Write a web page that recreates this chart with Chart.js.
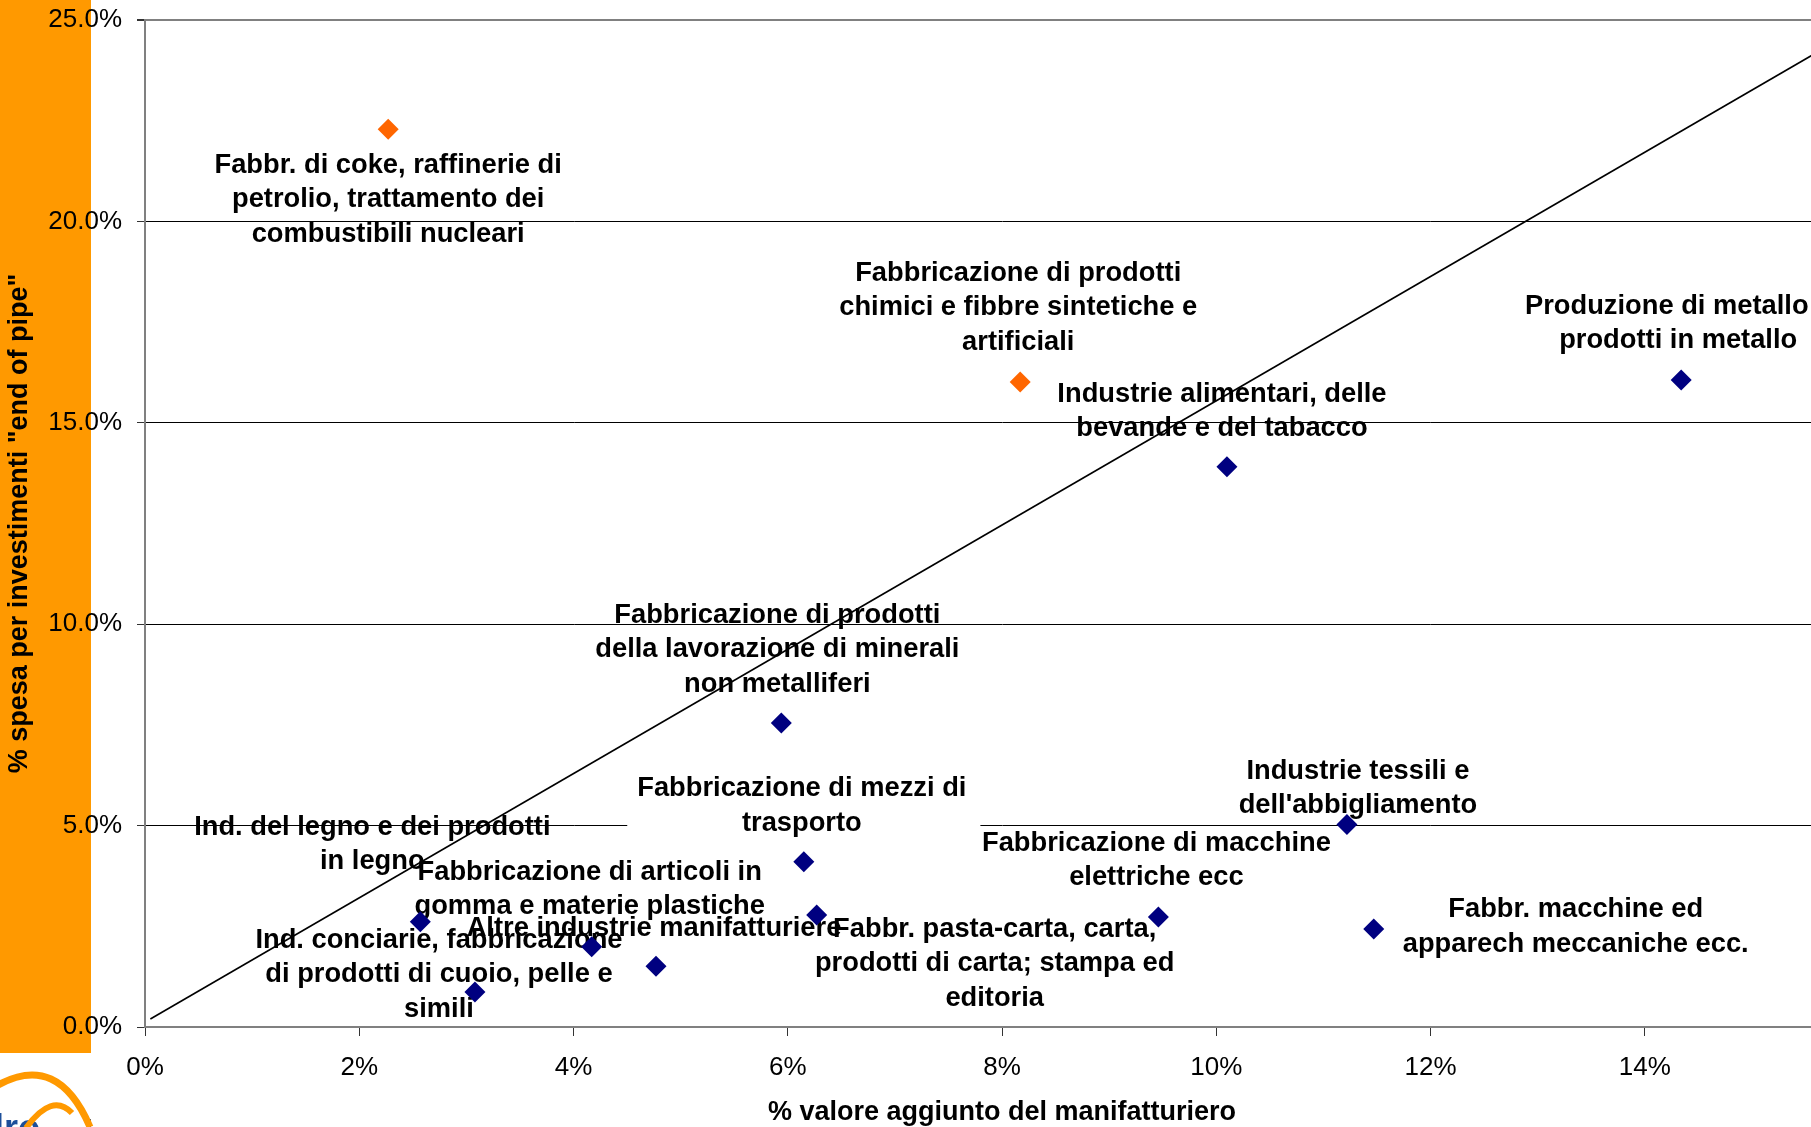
<!DOCTYPE html>
<html>
<head>
<meta charset="utf-8">
<script src="https://cdn.jsdelivr.net/npm/chart.js@4.4.1/dist/chart.umd.min.js"></script>
<style>
  html, body { margin: 0; padding: 0; overflow: hidden; background: #fff; width: 1811px; height: 1127px; }
  #wrap { position: absolute; left: 0; top: 0; width: 1900px; height: 1127px; }
</style>
</head>
<body>
<div id="wrap"><canvas id="c" width="1900" height="1127"></canvas></div>
<script>
// ---- DATA ----
const sectorLabels = [
  ["Fabbr. di coke, raffinerie di", "petrolio, trattamento dei", "combustibili nucleari"],
  ["Fabbricazione di prodotti", "chimici e fibbre sintetiche e", "artificiali"],
  ["Produzione di metallo e", "prodotti in metallo"],
  ["Industrie alimentari, delle", "bevande e del tabacco"],
  ["Fabbricazione di prodotti", "della lavorazione di minerali", "non metalliferi"],
  ["Industrie tessili e", "dell'abbigliamento"],
  ["Fabbricazione di mezzi di", "trasporto"],
  ["Fabbricazione di articoli in", "gomma e materie plastiche"],
  ["Altre industrie manifatturiere"],
  ["Ind. del legno e dei prodotti", "in legno"],
  ["Ind. conciarie, fabbricazione", "di prodotti di cuoio, pelle e", "simili"],
  ["Fabbr. pasta-carta, carta,", "prodotti di carta; stampa ed", "editoria"],
  ["Fabbricazione di macchine", "elettriche ecc"],
  ["Fabbr. macchine ed", "apparech meccaniche ecc."]
];
// % valore aggiunto del manifatturiero
const valueAdded = [2.27, 8.17, 14.34, 10.10, 5.94, 11.22, 6.15, 4.17, 4.77, 2.57, 3.08, 6.27, 9.46, 11.47];
// % spesa per investimenti "end of pipe"
const endOfPipe  = [22.29, 16.01, 16.06, 13.91, 7.55, 5.03, 4.10, 1.99, 1.51, 2.61, 0.87, 2.78, 2.73, 2.43];
// group: "alto" = highlighted sectors
const sectorGroup = ["alto", "alto", "base", "base", "base", "base", "base", "base", "base", "base", "base", "base", "base", "base"];
// reference line
const trendX = [0.05, 16];
const trendY = [0.20, 24.80];
// tick labels
const xTickLabels = ["0%", "2%", "4%", "6%", "8%", "10%", "12%", "14%", "16%"];
const yTickLabels = ["0.0%", "5.0%", "10.0%", "15.0%", "20.0%", "25.0%"];
const xTitle = "% valore aggiunto del manifatturiero";
const yTitle = '% spesa per investimenti "end of pipe"';

// ---- LAYOUT (label offsets from each point in px: dx, dy of first line, white box) ----
const labelPlacement = [
  [0, 36, false],
  [-2, -109, false],
  [-3, -74, false],
  [-5, -72.5, false],
  [-4, -107.5, false],
  [11, -53, false],
  [-2, -73, true],
  [-2, -74.5, false],
  [-2, -37.5, false],
  [-48, -94.5, false],
  [-36, -51.5, false],
  [178, 14, false],
  [-2, -74, false],
  [202, -19.5, false]
];
const LINE_H = 34.5;
const FONT = '"Liberation Sans", Arial, sans-serif';

const bgPlugin = {
  id: 'bg',
  beforeDraw(chart) {
    const ctx = chart.ctx;
    ctx.save();
    ctx.fillStyle = '#fff';
    ctx.fillRect(0, 0, chart.width, chart.height);
    ctx.fillStyle = '#FF9900';
    ctx.fillRect(0, 0, 91, 1053);
    ctx.restore();
  },
  afterDraw(chart) {
    // partial logo in bottom-left corner
    const ctx = chart.ctx;
    ctx.save();
    ctx.fillStyle = '#1d4f9a';
    ctx.font = 'bold 36px ' + FONT;
    ctx.textBaseline = 'alphabetic';
    ctx.fillText('lro', -6, 1140);
    ctx.fillRect(87, 1119, 4, 8);
    ctx.strokeStyle = '#FF9900';
    ctx.lineCap = 'butt';
    ctx.lineWidth = 7;
    ctx.beginPath();
    ctx.moveTo(-2, 1085);
    ctx.quadraticCurveTo(58, 1052, 90, 1127);
    ctx.stroke();
    ctx.lineWidth = 6;
    ctx.beginPath();
    ctx.moveTo(26, 1128);
    ctx.quadraticCurveTo(52, 1092, 72, 1113);
    ctx.stroke();
    ctx.restore();
  }
};

const labelPlugin = {
  id: 'sectorLabels',
  beforeDatasetsDraw(chart) {
    const ctx = chart.ctx;
    const meta = chart.getDatasetMeta(0);
    ctx.save();
    ctx.font = 'bold 27.3px ' + FONT;
    ctx.textAlign = 'center';
    ctx.textBaseline = 'middle';
    meta.data.forEach((pt, i) => {
      const [dx, dy, box] = labelPlacement[i];
      const lines = sectorLabels[i];
      const cx = pt.x + dx;
      const cy = pt.y + dy;
      if (box) {
        const w = Math.max(...lines.map(l => ctx.measureText(l).width));
        ctx.fillStyle = '#fff';
        ctx.fillRect(cx - w / 2 - 10, cy - 20, w + 24, (lines.length - 1) * LINE_H + 40);
      }
      ctx.fillStyle = '#000';
      lines.forEach((l, j) => ctx.fillText(l, cx, cy + j * LINE_H));
    });
    ctx.restore();
  }
};

new Chart(document.getElementById('c'), {
  type: 'scatter',
  data: {
    datasets: [
      {
        label: 'Settori',
        data: valueAdded.map((x, i) => ({ x: x, y: endOfPipe[i] })),
        pointStyle: 'rectRot',
        pointRadius: 10.5,
        pointHoverRadius: 10.5,
        pointBackgroundColor: sectorGroup.map(g => g === 'alto' ? '#FF6600' : '#000080'),
        pointBorderWidth: 0,
        borderWidth: 0,
        order: 0
      },
      {
        label: 'Riferimento',
        data: trendX.map((x, i) => ({ x: x, y: trendY[i] })),
        showLine: true,
        borderColor: '#000',
        borderWidth: 1.6,
        pointRadius: 0,
        pointHoverRadius: 0,
        fill: false,
        order: 1
      }
    ]
  },
  options: {
    responsive: false,
    animation: false,
    devicePixelRatio: 1,
    events: [],
    layout: { padding: { left: 0, top: 20, right: 41, bottom: 0 } },
    plugins: { legend: { display: false }, tooltip: { enabled: false } },
    scales: {
      x: {
        type: 'linear',
        position: 'bottom',
        min: 0, max: 16,
        ticks: {
          stepSize: 2,
          autoSkip: false,
          maxRotation: 0,
          padding: 16,
          color: '#000',
          font: { family: FONT, size: 26 },
          callback: (v, i) => xTickLabels[i]
        },
        grid: { drawOnChartArea: false, drawTicks: true, tickLength: 9, tickColor: '#333', tickWidth: 1 },
        border: { display: true, color: '#808080', width: 2 },
        title: {
          display: true, text: xTitle, color: '#000',
          font: { family: FONT, size: 27, weight: 'bold', lineHeight: 1 },
          padding: { top: 0, bottom: 1 }
        },
        afterFit: s => { s.height = 100; s.paddingLeft = 0; s.paddingRight = 0; }
      },
      y: {
        type: 'linear',
        min: 0, max: 25,
        ticks: {
          stepSize: 5,
          padding: 15,
          color: '#000',
          font: { family: FONT, size: 26 },
          callback: (v, i) => yTickLabels[i]
        },
        grid: {
          color: c => (c.tick && c.tick.value === 25) ? '#808080' : '#000',
          lineWidth: c => (c.tick && c.tick.value === 25) ? 2 : 1,
          tickLength: 8,
          tickColor: '#333'
        },
        border: { display: true, color: '#808080', width: 2 },
        title: {
          display: true, text: yTitle, color: '#000',
          font: { family: FONT, size: 27, weight: 'bold' },
          padding: { top: 3, bottom: 0 }
        },
        afterFit: s => { s.width = 145; s.paddingTop = 0; s.paddingBottom = 0; }
      }
    }
  },
  plugins: [bgPlugin, labelPlugin]
});
</script>
</body>
</html>
